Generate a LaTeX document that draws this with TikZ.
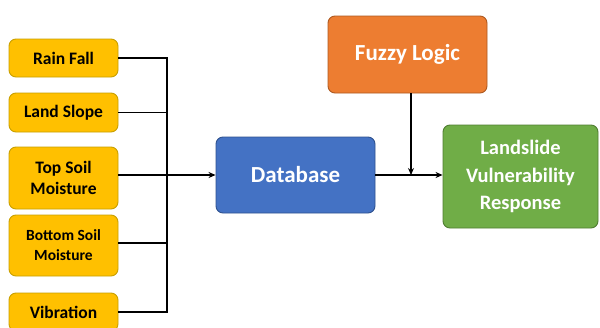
\documentclass[tikz,border=0pt]{standalone}
\usepackage{fontspec}
\setmainfont{Carlito}
\usetikzlibrary{arrows.meta}
\definecolor{ylw}{HTML}{FFC000}
\definecolor{ylwb}{HTML}{C9A000}
\definecolor{blu}{HTML}{4472C4}
\definecolor{blub}{HTML}{2F528F}
\definecolor{org}{HTML}{ED7D31}
\definecolor{orgb}{HTML}{AE5A21}
\definecolor{grn}{HTML}{70AD47}
\definecolor{grnb}{HTML}{507E32}
\tikzset{
  box/.style={draw, rounded corners=7pt, line width=0.9pt, align=center, inner sep=0pt, font=\bfseries},
  inbox/.style={box, fill=ylw, draw=ylwb, minimum width=109pt, text=black, font=\bfseries\fontsize{17.5}{21}\selectfont},
  conn/.style={line width=1.6pt, black},
  arr/.style={conn, -{Stealth[length=7pt,width=6pt]}}
}
\begin{document}
\begin{tikzpicture}[x=1pt,y=-1pt]
\useasboundingbox (0,0) rectangle (600,327);
\fill[white] (0,0) rectangle (600,327);
\node[inbox, minimum height=38pt] (rf) at (63.5,58) {Rain Fall};
\node[inbox, minimum height=39pt] (ls) at (63.5,112.5) {Land Slope};
\node[inbox, minimum height=62pt] (ts) at (63.5,178) {Top Soil\\Moisture};
\node[inbox, minimum height=61pt, font=\bfseries\fontsize{15.5}{20}\selectfont] (bs) at (63.5,245.5) {Bottom Soil\\Moisture};
\node[inbox, minimum height=38pt] (vb) at (63.5,312) {Vibration};
\node[box, fill=blu, draw=blub, text=white, minimum width=159pt, minimum height=76pt, font=\bfseries\fontsize{23}{27}\selectfont] (db) at (295.5,175) {Database};
\node[box, fill=org, draw=orgb, text=white, minimum width=159pt, minimum height=77pt, font=\bfseries\fontsize{23}{27}\selectfont] (fz) at (407.5,54.5) {Fuzzy Logic};
\node[box, fill=grn, draw=grnb, text=white, minimum width=155pt, minimum height=103pt, font=\bfseries\fontsize{20.5}{27.5}\selectfont] (lv) at (520.5,176.5) {Landslide\\Vulnerability\\Response};
\coordinate (bus) at (167,0);
\draw[conn] (rf.east) -- (rf.east -| bus) -- (bus |- vb.east) -- (vb.east);
\draw[conn] (ls.east) -- (ls.east -| bus);
\draw[conn] (bs.east |- 0,243) -- (bus |- 0,243);
\draw[arr] (ts.east |- db.west) -- (db.west);
\draw[arr] (db.east) -- (db.east -| lv.west);
\draw[arr] (fz.south -| 411,0) -- (411,0 |- db.east);
\end{tikzpicture}
\end{document}
